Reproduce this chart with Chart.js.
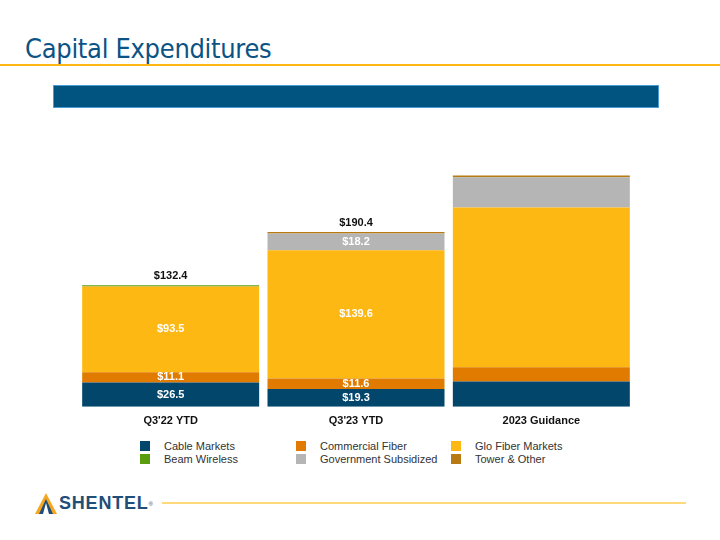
<!DOCTYPE html>
<html>
<head>
<meta charset="utf-8">
<script src="https://cdn.jsdelivr.net/npm/chart.js@4.4.0/dist/chart.umd.min.js"></script>
<style>
  body { margin: 0; width: 720px; height: 540px; background: #fff; position: relative; overflow: hidden; font-family: "Liberation Sans", Arial, sans-serif; }
  #title { position: absolute; left: 25px; top: 33px; font-size: 27px; color: #0B5384; font-family: "DejaVu Sans Condensed", "DejaVu Sans", sans-serif; letter-spacing: -0.3px; }
  #titleLine { position: absolute; left: 0; top: 64px; width: 720px; height: 2px; background: #FDB813; }
  #banner { position: absolute; left: 53px; top: 85px; width: 604px; height: 21px; background: #025480; border: 1px solid #4B9CD3; }
  #chartBox { position: absolute; left: 78px; top: 146px; width: 556px; height: 290px; }
  #legend { position: absolute; left: 140px; top: 440px; display: grid; grid-template-columns: 156px 155px 140px; row-gap: 2px; font-size: 11px; color: #333; }
  #legend div { display: flex; align-items: center; height: 11px; }
  #legend span.box { width: 10px; height: 10px; margin-right: 14px; }
  #footLine { position: absolute; left: 162px; top: 502px; width: 524px; height: 2px; background: #FDD97A; }
  #logo { position: absolute; left: 35px; top: 493px; display: flex; align-items: center; }
  #logo .name { font-weight: bold; font-size: 18px; color: #1F4E79; letter-spacing: 0.8px; margin-left: 2px; }
  #logo sup { font-size: 6px; color: #1F4E79; }
</style>
</head>
<body>
<div id="title">Capital Expenditures</div>
<div id="titleLine"></div>
<div id="banner"></div>
<div id="chartBox"><canvas id="capexChart"></canvas></div>
<div id="legend"></div>
<div id="footLine"></div>
<div id="logo">
  <svg width="22" height="21" viewBox="0 0 22 21">
    <polygon points="11,0 22,21 0,21" fill="#F5A623"/>
    <polygon points="11,6 18,21 4,21" fill="#1F4E79"/>
    <polygon points="11,10 14,21 8,21" fill="#fff"/>
  </svg>
  <span class="name">SHENTEL</span><sup>®</sup>
</div>
<script>
// values in $ millions
var categories = ["Q3'22 YTD", "Q3'23 YTD", "2023 Guidance"];
var cableMarkets = [26.5, 19.3, 27.5];
var commercialFiber = [11.1, 11.6, 15.5];
var gloFiberMarkets = [93.5, 139.6, 174];
var beamWireless = [1.3, 0, 0];
var governmentSubsidized = [0, 18.2, 33];
var towerOther = [0, 1.7, 2];
var showValues = [true, true, false];

var seriesNames = ["Cable Markets", "Commercial Fiber", "Glo Fiber Markets", "Beam Wireless", "Government Subsidized", "Tower & Other"];
var seriesData = [cableMarkets, commercialFiber, gloFiberMarkets, beamWireless, governmentSubsidized, towerOther];
var seriesColors = ["#03466C", "#E07B00", "#FDB813", "#5A9E10", "#B5B5B5", "#B87A12"];

var datasets = [];
for (let i = 0; i < seriesNames.length; i++) {
    datasets.push({
        label: seriesNames[i],
        data: seriesData[i],
        backgroundColor: seriesColors[i],
        borderWidth: 0,
        categoryPercentage: 1,
        barPercentage: 0.955
    });
}

var fmt = function (v) { return "$" + v.toFixed(1); };

var valueLabels = {
    id: 'valueLabels',
    afterDatasetsDraw: function (chart) {
        const ctx = chart.ctx;
        ctx.save();
        ctx.font = "bold 11px 'Liberation Sans', Arial, sans-serif";
        ctx.textAlign = "center";
        ctx.textBaseline = "middle";
        chart.data.datasets.forEach(function (ds, d) {
            const meta = chart.getDatasetMeta(d);
            meta.data.forEach(function (bar, i) {
                if (!showValues[i] || ds.data[i] < 5) return;
                ctx.fillStyle = "#fff";
                ctx.fillText(fmt(ds.data[i]), bar.x, (bar.y + bar.base) / 2);
            });
        });
        // totals above the bars
        categories.forEach(function (c, i) {
            if (!showValues[i]) return;
            let total = 0, top = Infinity, x = 0;
            chart.data.datasets.forEach(function (ds, d) {
                total += ds.data[i];
                const bar = chart.getDatasetMeta(d).data[i];
                top = Math.min(top, bar.y);
                x = bar.x;
            });
            ctx.fillStyle = "#111";
            ctx.fillText(fmt(total), x, top - 9);
        });
        ctx.restore();
    }
};

var chartObject = new Chart(document.getElementById("capexChart").getContext('2d'), {
    type: 'bar',
    data: { labels: categories, datasets: datasets },
    options: {
        responsive: true,
        maintainAspectRatio: false,
        animation: false,
        layout: { padding: 0 },
        plugins: { legend: { display: false }, tooltip: { enabled: false } },
        scales: {
            x: {
                stacked: true,
                grid: { display: false, drawTicks: false },
                border: { display: false },
                ticks: { color: "#111", padding: 8, font: { family: "'Liberation Sans', Arial, sans-serif", size: 11, weight: 'bold' } }
            },
            y: { stacked: true, display: false, min: 0, max: 284 }
        }
    },
    plugins: [valueLabels]
});

// legend laid out in three columns, like the slide
var legendEl = document.getElementById("legend");
chartObject.data.datasets.forEach(function (ds) {
    let item = document.createElement("div");
    item.innerHTML = '<span class="box" style="background:' + ds.backgroundColor + '"></span>' + ds.label;
    legendEl.appendChild(item);
});
</script>
</body>
</html>
